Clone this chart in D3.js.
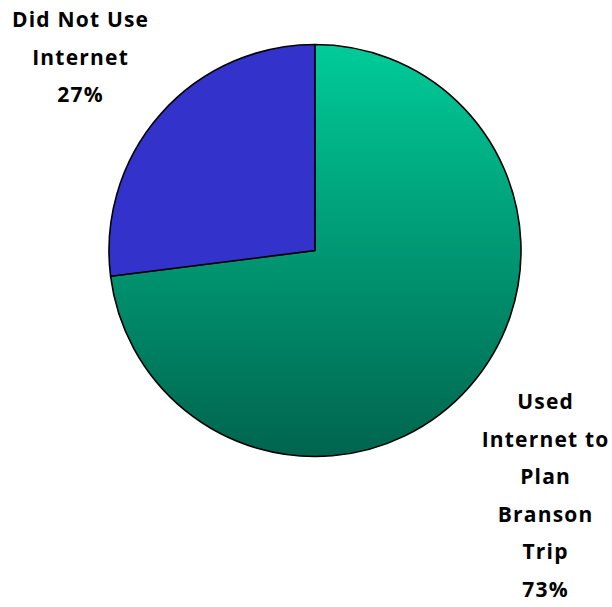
<!DOCTYPE html>
<html>
<head>
<meta charset="utf-8">
<script src="https://cdn.jsdelivr.net/npm/d3@7"></script>
<style>
  html, body { margin: 0; padding: 0; background: #fff; }
  svg { display: block; }
</style>
</head>
<body>
<svg id="chart" width="612" height="607"></svg>
<script>
// Share of Branson visitors by internet use when planning the trip
const categories = ["Used Internet to Plan Branson Trip", "Did Not Use Internet"];
const values = [73, 27];
const labelLines = [
  ["Used", "Internet to", "Plan", "Branson", "Trip", "73%"],
  ["Did Not Use", "Internet", "27%"]
];

const width = 612, height = 607;
const cx = 315, cy = 250.5, radius = 206;
// label anchor (centre x, first baseline y) for each slice
const labelAnchors = [[545, 409], [80, 27]];
const lineHeight = 37.5;
const letterSpacing = 1.2;

const svg = d3.select("#chart");
const defs = svg.append("defs");

// vertical shade on the large slice, in the pie group's coordinates
const grad = defs.append("linearGradient")
  .attr("id", "greenGrad")
  .attr("gradientUnits", "userSpaceOnUse")
  .attr("x1", 0).attr("y1", -radius)
  .attr("x2", 0).attr("y2", radius);
grad.append("stop").attr("offset", "0%").attr("stop-color", "#00CC99");
grad.append("stop").attr("offset", "100%").attr("stop-color", "#00644E");

const fills = ["url(#greenGrad)", "#3333CC"];

const pie = d3.pie().sort(null).value(d => d);
const arc = d3.arc().innerRadius(0).outerRadius(radius);

const g = svg.append("g").attr("transform", `translate(${cx},${cy})`);
g.selectAll("path")
  .data(pie(values))
  .join("path")
  .attr("d", arc)
  .attr("fill", (d, i) => fills[i])
  .attr("stroke", "#000")
  .attr("stroke-width", 1.6)
  .attr("stroke-linejoin", "round");

const labels = svg.append("g")
  .attr("font-family", "'Open Sans', 'Noto Sans', sans-serif")
  .attr("font-weight", "bold")
  .attr("font-size", 21)
  .attr("letter-spacing", letterSpacing)
  .attr("fill", "#000")
  .attr("text-anchor", "middle");

labelLines.forEach((lines, i) => {
  const [lx, ly] = labelAnchors[i];
  const t = labels.append("text");
  lines.forEach((line, j) => {
    t.append("tspan")
      .attr("x", lx + letterSpacing / 2)
      .attr("y", ly + j * lineHeight)
      .text(line);
  });
});
</script>
</body>
</html>
